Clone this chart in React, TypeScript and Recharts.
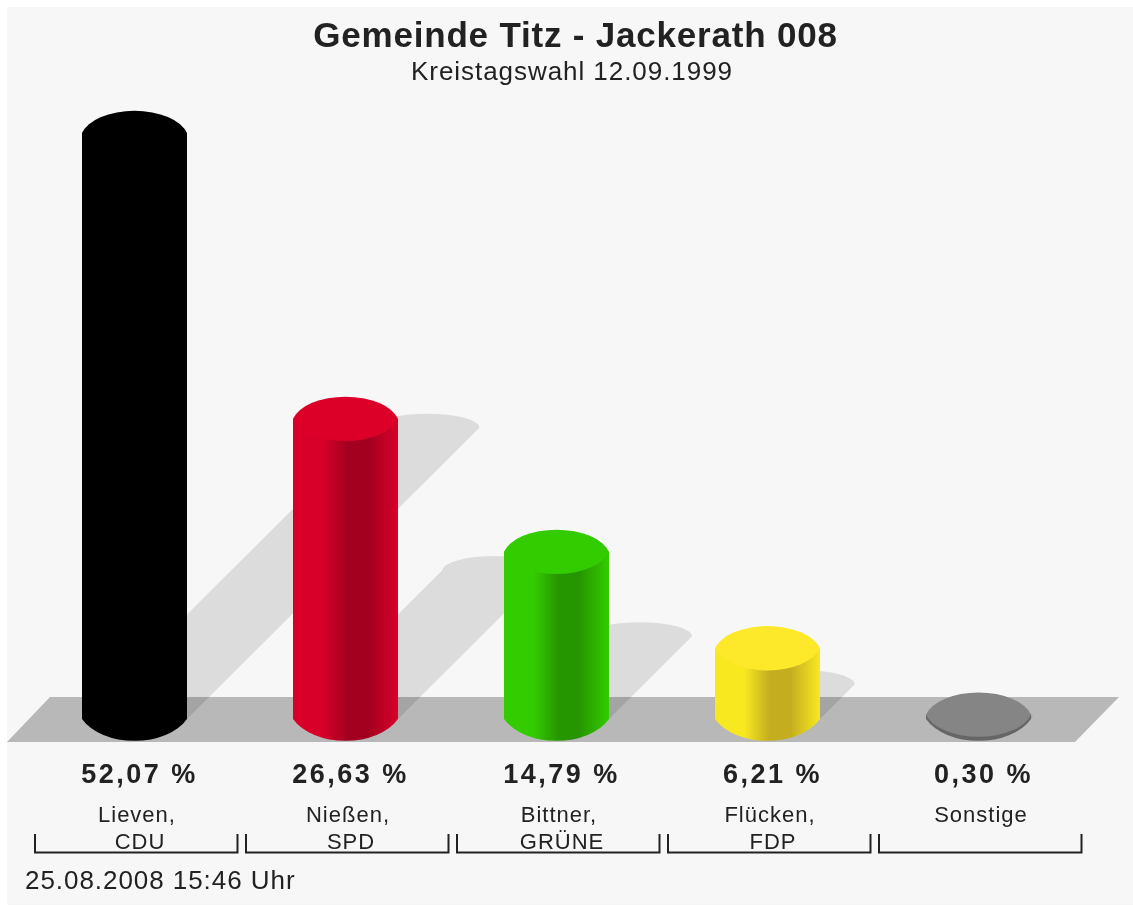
import { Bar, BarChart, Customized, XAxis, YAxis } from "recharts";

const names = ["Lieven,", "Nießen,", "Bittner,", "Flücken,", "Sonstige"];
const parties = ["CDU", "SPD", "GRÜNE", "FDP", ""];
const shares = [52.07, 26.63, 14.79, 6.21, 0.3];

// edge, shaded middle, top cap
const edgeColors = ["#000000", "#d80028", "#33cc00", "#f8e820", "#808080"];
const midColors = ["#000000", "#a30020", "#269600", "#c4ae20", "#808080"];
const capColors = ["#000000", "#dc0029", "#33cc00", "#fde92a", "#858585"];

const data = names.map((name, i) => ({ name, value: shares[i] }));

const INK = "#222222";
const FONT = "'Liberation Sans', Arial, sans-serif";
// the rims meet the sides at a slight angle, so the arcs are wider than the bar
const CAP_ARC = "54,29";
const BASE_ARC = "58,38";

function Floor() {
  return <polygon points="7,742 50,697 1119,697 1075,742" fill="#b8b8b8" />;
}

function Titles() {
  return (
    <g fontFamily={FONT} fill={INK} textAnchor="middle">
      <text x={575.5} y={47} fontSize={35} fontWeight={700} letterSpacing={0.8}>
        Gemeinde Titz - Jackerath 008
      </text>
      <text x={572} y={80} fontSize={26} letterSpacing={0.95}>
        Kreistagswahl 12.09.1999
      </text>
      <text x={25} y={889} fontSize={26} letterSpacing={0.95} textAnchor="start">
        25.08.2008 15:46 Uhr
      </text>
    </g>
  );
}

function Cylinder(props: any) {
  const { x, y, width, height, index } = props;
  const rx = width / 2;
  const cx = x + rx;
  const base = y + height;
  const rim = y - 1;
  const id = `body-${index}`;
  // shadow falls up and to the right, proportional to the height of the bar
  const sx = cx + height * 0.5;
  const sy = base - height * 0.498;
  return (
    <g>
      <path
        d={`M${sx - rx},${sy} A${rx},14 0 0 1 ${sx + rx},${sy} L${x + width},${base} L${x},${base} Z`}
        fill="#000000"
        fillOpacity={0.105}
      />
      <defs>
        <linearGradient id={id} x1="0" x2="1" y1="0" y2="0">
          <stop offset="0%" stopColor={edgeColors[index]} />
          <stop offset="28%" stopColor={edgeColors[index]} />
          <stop offset="52%" stopColor={midColors[index]} />
          <stop offset="72%" stopColor={midColors[index]} />
          <stop offset="100%" stopColor={edgeColors[index]} />
        </linearGradient>
      </defs>
      <path
        d={`M${x},${rim} L${x},${base} A${BASE_ARC} 0 0 0 ${x + width},${base} L${x + width},${rim} Z`}
        fill={index === 4 ? "#666666" : `url(#${id})`}
      />
      <path
        d={`M${x},${rim} A${CAP_ARC} 0 0 1 ${x + width},${rim} A${CAP_ARC} 0 0 1 ${x},${rim} Z`}
        fill={capColors[index]}
      />
    </g>
  );
}

function CategoryTick(props: any) {
  const { x, payload, index } = props;
  const value = shares[index].toFixed(2).replace(".", ",");
  return (
    <g fontFamily={FONT} fill={INK} textAnchor="middle">
      <text x={x + 5} y={783} fontSize={27} fontWeight={700} letterSpacing={2.5}>
        {`${value} %`}
      </text>
      <text x={x + 2.5} y={822} fontSize={22} letterSpacing={1}>
        {payload.value}
      </text>
      <text x={x + 5.5} y={849} fontSize={22} letterSpacing={1}>
        {parties[index]}
      </text>
      <path
        d={`M${x - 99.5},834 V852.5 H${x + 103} V834`}
        fill="none"
        stroke={INK}
        strokeWidth={2}
      />
    </g>
  );
}

export default function App() {
  return (
    <div style={{ position: "absolute", left: 0, top: 0, width: 1133, height: 906, background: "#ffffff" }}>
      <div style={{ position: "absolute", left: 7, top: 7, width: 1126, height: 898, background: "#f7f7f7" }} />
      <div style={{ position: "absolute", left: 0, top: 0, filter: "blur(0.6px)" }}>
        <BarChart
          width={1133}
          height={906}
          data={data}
          barSize={105}
          margin={{ top: 45, right: 49, bottom: 0, left: 29 }}
        >
          <Customized component={Floor} />
          <Customized component={Titles} />
          <YAxis hide domain={[0, 60]} />
          <XAxis
            dataKey="name"
            axisLine={false}
            tickLine={false}
            height={187}
            interval={0}
            tick={<CategoryTick />}
          />
          <Bar dataKey="value" shape={<Cylinder />} isAnimationActive={false} />
        </BarChart>
      </div>
    </div>
  );
}
